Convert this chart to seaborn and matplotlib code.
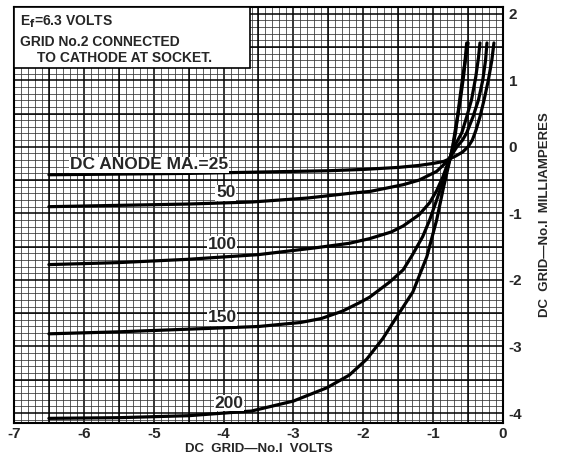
# -*- coding: utf-8 -*-

import matplotlib
matplotlib.use("Agg")
import matplotlib.pyplot as plt
from matplotlib.ticker import MultipleLocator
from matplotlib.patches import Rectangle
import numpy as np
import pandas as pd
import seaborn as sns

# Data (grid-1 volts, grid-1 milliamperes)
anode_ma = [25, 50, 100, 150, 200]

v_25 = [-6.5, -5.5, -4.5, -3.5, -2.5, -2.0, -1.5, -1.2, -1.0, -0.85, -0.76, -0.68, -0.58,
        -0.50, -0.44, -0.39, -0.33, -0.27, -0.21, -0.16, -0.13]
i_25 = [-0.42, -0.41, -0.40, -0.38, -0.36, -0.34, -0.31, -0.28, -0.25, -0.22, -0.18, -0.14, -0.08,
        0.0, 0.10, 0.24, 0.45, 0.71, 1.00, 1.30, 1.56]

v_50 = [-6.5, -5.5, -4.5, -3.6, -2.8, -2.2, -1.9, -1.43, -1.2, -0.95, -0.81, -0.74, -0.66,
        -0.58, -0.52, -0.43, -0.35, -0.29, -0.25, -0.23]
i_50 = [-0.90, -0.88, -0.86, -0.83, -0.77, -0.70, -0.67, -0.57, -0.50, -0.37, -0.23, -0.13, 0.0,
        0.10, 0.21, 0.45, 0.71, 1.00, 1.30, 1.56]

v_100 = [-6.5, -5.5, -4.5, -3.5, -2.7, -2.2, -1.91, -1.6, -1.43, -1.2, -1.05, -0.95, -0.86,
         -0.77, -0.70, -0.59, -0.52, -0.45, -0.39, -0.35, -0.33]
i_100 = [-1.77, -1.74, -1.69, -1.62, -1.52, -1.45, -1.38, -1.28, -1.19, -1.02, -0.84, -0.66, -0.45,
         -0.19, 0.0, 0.21, 0.45, 0.71, 1.05, 1.35, 1.56]

v_150 = [-6.5, -5.5, -4.5, -3.5, -2.9, -2.6, -2.3, -2.05, -1.91, -1.62, -1.43, -1.3, -1.15, -1.05,
         -0.95, -0.86, -0.81, -0.76, -0.72, -0.69, -0.65, -0.61, -0.56, -0.52]
i_150 = [-2.81, -2.78, -2.74, -2.70, -2.64, -2.58, -2.47, -2.34, -2.26, -2.03, -1.85, -1.63, -1.35,
         -1.10, -0.80, -0.52, -0.35, -0.19, 0.0, 0.21, 0.45, 0.71, 1.10, 1.56]

v_200 = [-6.5, -5.5, -4.5, -3.6, -3.0, -2.52, -2.2, -1.95, -1.72, -1.5, -1.29, -1.09, -0.95,
         -0.86, -0.76, -0.72, -0.68, -0.62, -0.57, -0.50]
i_200 = [-4.08, -4.07, -4.04, -3.97, -3.82, -3.62, -3.43, -3.19, -2.88, -2.52, -2.18, -1.65, -1.10,
         -0.65, -0.19, 0.0, 0.21, 0.71, 1.10, 1.56]

curve_labels = ["DC ANODE MA.=25", "50", "100", "150", "200"]
label_x = [-5.07, -3.97, -4.02, -4.02, -3.92]
label_y = [-0.27, -0.69, -1.47, -2.57, -3.85]

x_ticks = [-7, -6, -5, -4, -3, -2, -1, 0]
x_tick_labels = ["-7", "-6", "-5", "-4", "-3", "-2", "-1", "0"]
y_ticks = [-4, -3, -2, -1, 0, 1, 2]
y_tick_labels = ["-4", "-3", "-2", "-1", "0", "1", "2"]

# Long table for seaborn
frames = []
for ma, v, i in zip(anode_ma, [v_25, v_50, v_100, v_150, v_200],
                    [i_25, i_50, i_100, i_150, i_200]):
	frames.append(pd.DataFrame({"grid_v": v, "grid_ma": i, "anode": ma}))
df = pd.concat(frames, ignore_index=True)

sns.set_theme(style="white")
plt.rcParams["font.family"] = ["Liberation Sans", "DejaVu Sans"]
plt.rcParams["font.weight"] = "bold"

fig = plt.figure(figsize=(5.68, 4.58), dpi=100)
ax = fig.add_axes([0.0246, 0.0764, 0.861, 0.9083])

sns.lineplot(data=df, x="grid_v", y="grid_ma", units="anode", estimator=None,
             sort=False, color="black", lw=2.3, ax=ax, zorder=5)

ax.set_xlim(-7, 0)
ax.set_ylim(-4.15, 2.1)

# graph-paper grid: fine lines every 0.1, heavy lines every 0.5
ax.xaxis.set_minor_locator(MultipleLocator(0.1))
ax.yaxis.set_minor_locator(MultipleLocator(0.1))
ax.grid(which="major", color="black", lw=1.1)
ax.grid(which="minor", color="#333333", lw=0.55)
ax.set_axisbelow(True)
ax.tick_params(which="both", length=0)
ax.set_xticks(x_ticks)
ax.set_xticklabels(x_tick_labels, fontsize=11, fontweight="bold")
ax.yaxis.tick_right()
ax.set_yticks(y_ticks)
ax.set_yticklabels(y_tick_labels, fontsize=11, fontweight="bold")
for xv in np.arange(-6.5, 0, 1.0):
	ax.axvline(xv, color="black", lw=1.1, zorder=1)
for yv in np.arange(-3.5, 2.0, 1.0):
	ax.axhline(yv, color="black", lw=1.1, zorder=1)

for s in ax.spines.values():
	s.set_color("black")
	s.set_linewidth(1.5)

ax.set_xlabel("DC  GRID\u2014No.I  VOLTS", fontsize=9.5, fontweight="bold", labelpad=1)
ax.yaxis.set_label_position("right")
ax.set_ylabel("DC  GRID\u2014No.I  MILLIAMPERES", fontsize=9.5, fontweight="bold",
              rotation=90, labelpad=12)
ax.tick_params(axis="x", pad=3)
ax.tick_params(axis="y", pad=4)

for txt, lx, ly in zip(curve_labels, label_x, label_y):
	ax.text(lx, ly, txt, ha="center", va="center", fontsize=12.5, fontweight="bold", zorder=6,
	        bbox=dict(facecolor="white", edgecolor="none", pad=0.5))

# condition box, top left
ax.add_patch(Rectangle((0, 0.853), 0.483, 0.147, transform=ax.transAxes, facecolor="white",
                       edgecolor="black", lw=1.2, zorder=7))
ax.text(0.012, 0.965, "E$_\\mathbf{f}$=6.3 VOLTS", transform=ax.transAxes, fontsize=10,
        fontweight="bold", va="center", zorder=8)
ax.text(0.012, 0.915, "GRID No.2 CONNECTED", transform=ax.transAxes, fontsize=10,
        fontweight="bold", va="center", zorder=8)
ax.text(0.048, 0.878, "TO CATHODE AT SOCKET.", transform=ax.transAxes, fontsize=10,
        fontweight="bold", va="center", zorder=8)

plt.savefig("out.png", dpi=100)
plt.close("all")
